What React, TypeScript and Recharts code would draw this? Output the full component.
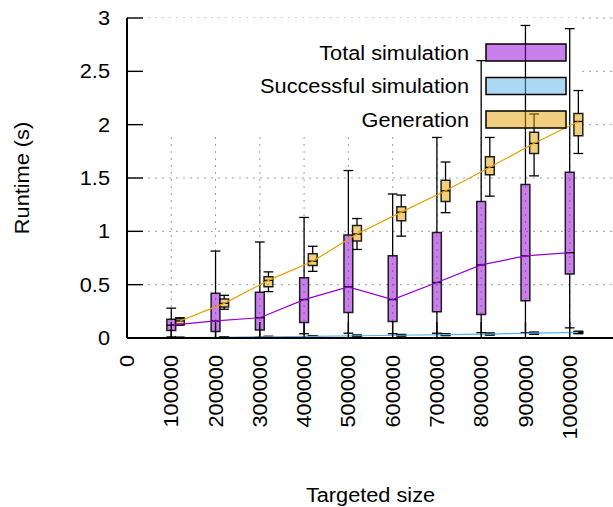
import React from 'react';
import {
  ComposedChart,
  XAxis,
  YAxis,
  CartesianGrid,
  Line,
  ReferenceArea,
  ReferenceLine,
  Legend,
} from 'recharts';

// targeted sizes (x categories)
const sizes = [100000, 200000, 300000, 400000, 500000, 600000, 700000, 800000, 900000, 1000000];
const xTicks = [0, 100000, 200000, 300000, 400000, 500000, 600000, 700000, 800000, 900000, 1000000];
const yTicks = [0, 0.5, 1, 1.5, 2, 2.5, 3];

// Total simulation (s)
const totalLow = [0.01, 0.0, 0.01, 0.04, 0.045, 0.04, 0.045, 0.05, 0.05, 0.095];
const totalQ1 = [0.07, 0.06, 0.075, 0.145, 0.24, 0.155, 0.245, 0.22, 0.35, 0.6];
const totalMed = [0.12, 0.16, 0.19, 0.36, 0.48, 0.36, 0.52, 0.685, 0.77, 0.8];
const totalQ3 = [0.175, 0.42, 0.43, 0.565, 0.965, 0.77, 0.99, 1.28, 1.44, 1.555];
const totalHigh = [0.28, 0.815, 0.9, 1.13, 1.57, 1.35, 1.88, 2.6, 2.93, 2.9];

// Successful simulation (s)
const succLow = [0.001, 0.003, 0.006, 0.01, 0.014, 0.018, 0.022, 0.027, 0.034, 0.04];
const succQ1 = [0.003, 0.005, 0.009, 0.013, 0.018, 0.022, 0.027, 0.032, 0.04, 0.047];
const succMed = [0.004, 0.007, 0.011, 0.016, 0.021, 0.026, 0.031, 0.037, 0.045, 0.053];
const succQ3 = [0.005, 0.009, 0.013, 0.019, 0.024, 0.03, 0.035, 0.042, 0.05, 0.058];
const succHigh = [0.007, 0.011, 0.016, 0.022, 0.028, 0.034, 0.04, 0.047, 0.056, 0.064];

// Generation (s)
const genLow = [0.12, 0.27, 0.435, 0.625, 0.83, 0.955, 1.175, 1.33, 1.52, 1.73];
const genQ1 = [0.13, 0.29, 0.48, 0.68, 0.91, 1.1, 1.28, 1.53, 1.73, 1.895];
const genMed = [0.16, 0.325, 0.54, 0.72, 0.975, 1.18, 1.38, 1.6, 1.825, 2.03];
const genQ3 = [0.18, 0.365, 0.575, 0.79, 1.055, 1.23, 1.48, 1.7, 1.93, 2.105];
const genHigh = [0.19, 0.4, 0.62, 0.86, 1.12, 1.34, 1.65, 1.88, 2.1, 2.32];

const FONT = '"Liberation Sans", Arial, sans-serif';
const FS = 19.5;
const SX = 1.115; // gnuplot text runs a bit wide

const SHIFT = 19500; // x shift of 2nd / 3rd box
const HALF_BOX = 10000;
const HALF_CAP = 11000;

const series = [
  { name: 'Total simulation', color: '#9400d3', shift: 0, low: totalLow, q1: totalQ1, med: totalMed, q3: totalQ3, high: totalHigh },
  { name: 'Successful simulation', color: '#56b4e9', shift: SHIFT, low: succLow, q1: succQ1, med: succMed, q3: succQ3, high: succHigh },
  { name: 'Generation', color: '#e69f00', shift: SHIFT, low: genLow, q1: genQ1, med: genMed, q3: genQ3, high: genHigh },
];

const YTick = (props: any) => {
  const { x, y, payload } = props;
  return (
    <text transform={`translate(${x},${y}) scale(${SX},1)`} textAnchor="end" dominantBaseline="central"
      fontFamily={FONT} fontSize={FS} fill="#000">
      {payload.value}
    </text>
  );
};

const XTick = (props: any) => {
  const { x, y, payload } = props;
  return (
    <text transform={`translate(${x},${y}) rotate(-90) scale(${SX},1)`} textAnchor="end" dominantBaseline="central"
      fontFamily={FONT} fontSize={FS} fill="#000">
      {payload.value}
    </text>
  );
};

const XLabel = (props: any) => {
  const vb = props.viewBox;
  return (
    <text transform={`translate(${vb.x + vb.width / 2},501.5) scale(${SX},1)`} textAnchor="middle"
      fontFamily={FONT} fontSize={FS} fill="#000">
      Targeted size
    </text>
  );
};

const YLabel = (props: any) => {
  const vb = props.viewBox;
  return (
    <text transform={`translate(21.5,${vb.y + vb.height / 2}) rotate(-90) scale(${SX},1)`} textAnchor="middle"
      dominantBaseline="central" fontFamily={FONT} fontSize={FS} fill="#000">
      Runtime (s)
    </text>
  );
};

const renderLegend = () => (
  <svg width={620} height={140}>
    {series.map((s, i) => {
      const cy = 52.5 + i * 33.5;
      return (
        <g key={s.name}>
          <text transform={`translate(469,${cy}) scale(${SX},1)`} textAnchor="end" dominantBaseline="central"
            fontFamily={FONT} fontSize={FS} fill="#000">
            {s.name}
          </text>
          <rect x={486} y={cy - 8.5} width={80} height={17} fill={s.color} fillOpacity={0.5}
            stroke="#000" strokeWidth={1.5} />
        </g>
      );
    })}
  </svg>
);

const boxes = series.flatMap((s) =>
  sizes.map((size, i) => (
    <ReferenceArea key={`box-${s.name}-${size}`} x1={size + s.shift - HALF_BOX} x2={size + s.shift + HALF_BOX}
      y1={s.q1[i]} y2={s.q3[i]} fill={s.color} fillOpacity={0.5} stroke="#000" strokeOpacity={0.85}
      strokeWidth={1.5} ifOverflow="visible" />
  ))
);

const whiskers = series.flatMap((s) =>
  sizes.flatMap((size, i) => {
    const x = size + s.shift;
    const common = { stroke: '#000', strokeWidth: 1.3, ifOverflow: 'visible' as const };
    return [
      <ReferenceLine key={`wl-${s.name}-${size}`} segment={[{ x, y: s.low[i] }, { x, y: s.q1[i] }]} {...common} />,
      <ReferenceLine key={`wh-${s.name}-${size}`} segment={[{ x, y: s.q3[i] }, { x, y: s.high[i] }]} {...common} />,
      <ReferenceLine key={`cl-${s.name}-${size}`} segment={[{ x: x - HALF_CAP, y: s.low[i] }, { x: x + HALF_CAP, y: s.low[i] }]} {...common} />,
      <ReferenceLine key={`ch-${s.name}-${size}`} segment={[{ x: x - HALF_CAP, y: s.high[i] }, { x: x + HALF_CAP, y: s.high[i] }]} {...common} />,
      <ReferenceLine key={`md-${s.name}-${size}`} segment={[{ x: x - HALF_BOX, y: s.med[i] }, { x: x + HALF_BOX, y: s.med[i] }]} {...common} />,
    ];
  })
);

export default function App() {
  return (
    <div style={{ position: 'absolute', top: 0, left: 0, width: 613, height: 507, overflow: 'hidden', background: '#fff' }}>
      <ComposedChart width={620} height={507} margin={{ top: 18, right: 6, bottom: 0, left: 0 }}>
        <CartesianGrid stroke="#a0a0a0" strokeDasharray="2 5" strokeWidth={1} />
        {/* opaque key box */}
        <ReferenceArea x1={0} x2={1023000} y1={1.894} y2={3} fill="#fff" fillOpacity={1} stroke="none" />
        {boxes}
        {whiskers}
        {series.map((s) => (
          <Line key={s.name} data={sizes.map((size, i) => ({ x: size + s.shift, y: s.med[i] }))} dataKey="y"
            name={s.name} stroke={s.color} strokeWidth={1.2} dot={false} isAnimationActive={false} />
        ))}
        <XAxis type="number" dataKey="x" domain={[0, 1100000]} ticks={xTicks} allowDataOverflow interval={0}
          height={169} tickSize={-16} tickMargin={33} tick={<XTick />}
          axisLine={{ stroke: '#000', strokeWidth: 2 }} tickLine={{ stroke: '#000', strokeWidth: 1.4 }}
          label={<XLabel />} />
        <XAxis xAxisId="top" orientation="top" type="number" domain={[0, 1100000]} ticks={xTicks} allowDataOverflow
          height={0} tickSize={-16} tick={false}
          axisLine={{ stroke: '#000', strokeWidth: 2 }} tickLine={{ stroke: '#000', strokeWidth: 1.4 }} />
        <YAxis type="number" domain={[0, 3]} ticks={yTicks} allowDataOverflow interval={0} width={127}
          tickSize={-16} tickMargin={33} tick={<YTick />}
          axisLine={{ stroke: '#000', strokeWidth: 2 }} tickLine={{ stroke: '#000', strokeWidth: 1.4 }}
          label={<YLabel />} />
        <YAxis yAxisId="right" orientation="right" type="number" domain={[0, 3]} ticks={yTicks} allowDataOverflow
          width={0} tickSize={-16} tick={false}
          axisLine={{ stroke: '#000', strokeWidth: 2 }} tickLine={{ stroke: '#000', strokeWidth: 1.4 }} />
        <Legend layout="horizontal" verticalAlign="middle" align="center" content={renderLegend}
          wrapperStyle={{ position: 'absolute', top: 0, left: 0, width: 620, height: 140, pointerEvents: 'none' }} />
      </ComposedChart>
    </div>
  );
}
